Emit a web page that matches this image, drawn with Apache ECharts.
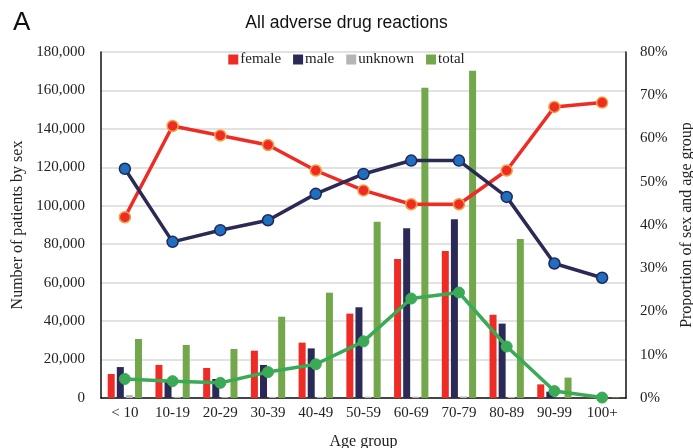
<!DOCTYPE html>
<html><head><meta charset="utf-8">
<script src="https://cdn.jsdelivr.net/npm/echarts@6/dist/echarts.min.js"></script>
<style>html,body{margin:0;padding:0;background:#fff}#c{width:693px;height:448px}</style>
</head><body><div id="c"></div>
<script>
const categories = ['< 10','10-19','20-29','30-39','40-49','50-59','60-69','70-79','80-89','90-99','100+'];
const femaleCount = [12500,17200,15600,24600,28800,43900,72300,76500,43300,7100,200];
const maleCount = [16100,9400,9900,17200,25800,47200,88300,93000,38700,3300,100];
const unknownCount = [1500,600,500,600,600,700,700,800,600,100,0];
const totalCount = [30700,27600,25500,42300,54800,91700,161400,170300,82700,10600,300];
const femaleShare = [41.8,62.9,60.7,58.5,52.6,48.0,44.8,44.8,52.6,67.3,68.3];
const maleShare = [53.0,36.1,38.8,41.1,47.2,51.8,54.9,54.9,46.5,31.1,27.8];
const ageShare = [4.4,3.9,3.5,6.0,7.8,13.1,23.0,24.4,11.9,1.6,0.1];

const serif = 'Liberation Serif';
const chart = echarts.init(document.getElementById('c'));
const barBase = {type:'bar', barWidth:7, barGap:'30%', yAxisIndex:0};
chart.setOption({
  animation:false,
  title:[
    {text:'All adverse drug reactions', left:'center', top:9, textStyle:{fontFamily:'Liberation Sans', fontSize:17.5, fontWeight:'normal', color:'#111'}},
    {text:'A', left:8, top:5, textStyle:{fontFamily:'Liberation Sans', fontSize:26, fontWeight:'normal', color:'#111'}}
  ],
  legend:{
    data:['female','male','unknown','total'], top:47, left:'center',
    itemWidth:10, itemHeight:10, itemGap:12, icon:'rect',
    textStyle:{fontFamily:serif, fontSize:15, color:'#222', padding:[0,0,0,-3]}
  },
  grid:{left:101, right:67, top:52, bottom:50, outerBoundsMode:'none', containLabel:false},
  xAxis:{
    type:'category', data:categories,
    axisLine:{lineStyle:{color:'#111', width:1.5}}, axisTick:{show:false},
    axisLabel:{fontFamily:serif, fontSize:15, color:'#222', margin:8},
    name:'Age group', nameLocation:'middle', nameGap:36,
    nameTextStyle:{fontFamily:serif, fontSize:16, color:'#222'}
  },
  yAxis:[
    {type:'value', min:0, max:180000, interval:20000,
     axisLine:{show:true, lineStyle:{color:'#111', width:1.5}}, axisTick:{show:false},
     splitLine:{lineStyle:{color:'#d9d9d9', width:1.5}},
     axisLabel:{fontFamily:serif, fontSize:15, color:'#222', margin:16,
       formatter:v=>v.toLocaleString('en-US')},
     name:'Number of patients by sex', nameLocation:'middle', nameGap:72,
     nameTextStyle:{fontFamily:serif, fontSize:16, color:'#222'}},
    {type:'value', min:0, max:80, interval:10,
     axisLine:{show:true, lineStyle:{color:'#111', width:1.5}}, axisTick:{show:false},
     splitLine:{show:false},
     axisLabel:{fontFamily:serif, fontSize:15, color:'#222', margin:14, formatter:'{value}%'},
     name:'Proportion of sex and age group', nameLocation:'middle', nameGap:52,
     nameTextStyle:{fontFamily:serif, fontSize:16, color:'#222'}}
  ],
  series:[
    Object.assign({name:'female', data:femaleCount, itemStyle:{color:'#EE2B25'}}, barBase),
    Object.assign({name:'male', data:maleCount, itemStyle:{color:'#2B2A56'}}, barBase),
    Object.assign({name:'unknown', data:unknownCount, itemStyle:{color:'#B5B5B8'}}, barBase),
    Object.assign({name:'total', data:totalCount, itemStyle:{color:'#72A84B'}}, barBase),
    {name:'female %', type:'line', yAxisIndex:1, data:femaleShare, symbol:'circle', symbolSize:11,
     lineStyle:{color:'#EE2B25', width:3.5}, itemStyle:{color:'#EE2B25', borderColor:'#F5A040', borderWidth:1.5}, z:5},
    {name:'male %', type:'line', yAxisIndex:1, data:maleShare, symbol:'circle', symbolSize:11,
     lineStyle:{color:'#2B2A56', width:3.5}, itemStyle:{color:'#1F6EC0', borderColor:'#1F2A5A', borderWidth:1.5}, z:5},
    {name:'age %', type:'line', yAxisIndex:1, data:ageShare, symbol:'circle', symbolSize:11,
     lineStyle:{color:'#3BAA57', width:3.5}, itemStyle:{color:'#3BAA57', borderColor:'#3BAA57', borderWidth:1}, z:6}
  ]
});
</script></body></html>
